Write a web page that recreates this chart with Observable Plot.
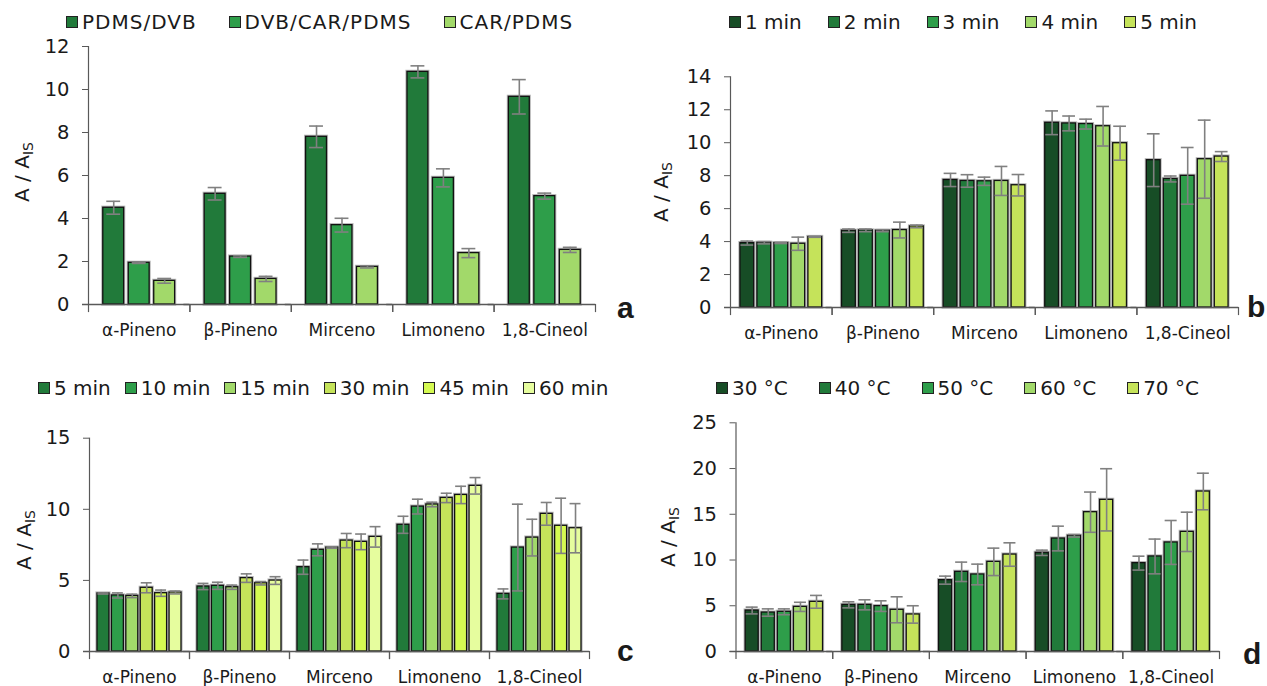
<!DOCTYPE html>
<html>
<head>
<meta charset="utf-8">
<script src="https://cdn.jsdelivr.net/npm/d3@7"></script>
<script src="https://cdn.jsdelivr.net/npm/@observablehq/plot@0.6"></script>
<style>
  body { margin: 0; background: #fff; }
  #root { position: relative; width: 1267px; height: 686px; overflow: hidden; font-family: "DejaVu Sans", sans-serif; color: #1a1a1a; background: #fff; }
  .psvg { position: absolute; }
  .legend { position: absolute; display: flex; align-items: center; font-size: 20px; white-space: nowrap; height: 24px; transform: translateY(-50%); }
  .legend .item { display: flex; align-items: center; }
  .legend .sw { width: 12px; height: 12px; border: 1px solid #222; box-sizing: border-box; margin-right: 4px; }
  .ylabel { position: absolute; font-size: 20px; white-space: nowrap; transform: translate(-50%, -50%) rotate(-90deg); }
  .ylabel sub { font-size: 14px; vertical-align: -4px; }
  .letter { position: absolute; font-family: "Liberation Sans Narrow", "Liberation Sans", Arial, sans-serif; font-weight: bold; font-size: 30px; line-height: 30px; }
</style>
</head>
<body>
<div id="root"></div>
<script>
// ---------- data ----------
const categories = ["α-Pineno", "β-Pineno", "Mirceno", "Limoneno", "1,8-Cineol"];

// Panel a: fibre coating
const seriesA = ["PDMS/DVB", "DVB/CAR/PDMS", "CAR/PDMS"];
const valuesA = [
  [4.50, 5.15, 7.80, 10.82, 9.66],
  [1.94, 2.23, 3.69, 5.89, 5.04],
  [1.10, 1.19, 1.75, 2.39, 2.54]
];
const errorsA = [
  [0.30, 0.29, 0.50, 0.28, 0.80],
  [0.03, 0.04, 0.32, 0.42, 0.14],
  [0.11, 0.12, 0.05, 0.21, 0.12]
];
const ticksA = [0, 2, 4, 6, 8, 10, 12];

// Panel b: desorption time
const seriesB = ["1 min", "2 min", "3 min", "4 min", "5 min"];
const valuesB = [
  [3.91, 4.66, 7.74, 11.21, 8.94],
  [3.93, 4.68, 7.68, 11.17, 7.80],
  [3.91, 4.66, 7.66, 11.13, 7.99],
  [3.87, 4.70, 7.68, 11.00, 9.00],
  [4.28, 4.92, 7.42, 9.97, 9.16]
];
const errorsB = [
  [0.12, 0.10, 0.40, 0.72, 1.60],
  [0.07, 0.08, 0.38, 0.45, 0.18],
  [0.03, 0.06, 0.25, 0.30, 1.72],
  [0.40, 0.48, 0.88, 1.20, 2.37],
  [0.02, 0.08, 0.65, 1.03, 0.30]
];
const ticksB = [0, 2, 4, 6, 8, 10, 12, 14];

// Panel c: extraction time
const seriesC = ["5 min", "10 min", "15 min", "30 min", "45 min", "60 min"];
const valuesC = [
  [4.08, 4.57, 5.93, 8.91, 4.05],
  [3.94, 4.62, 7.15, 10.19, 7.31],
  [3.91, 4.52, 7.31, 10.34, 8.01],
  [4.48, 5.16, 7.80, 10.80, 9.68],
  [4.10, 4.80, 7.71, 11.01, 8.84],
  [4.15, 4.99, 8.06, 11.65, 8.67]
];
const errorsC = [
  [0.04, 0.22, 0.50, 0.60, 0.35],
  [0.18, 0.25, 0.42, 0.52, 3.05],
  [0.12, 0.15, 0.05, 0.16, 1.29],
  [0.35, 0.30, 0.50, 0.33, 0.80],
  [0.22, 0.12, 0.55, 0.61, 1.94],
  [0.10, 0.27, 0.72, 0.58, 1.73]
];
const ticksC = [0, 5, 10, 15];

// Panel d: extraction temperature
const seriesD = ["30 °C", "40 °C", "50 °C", "60 °C", "70 °C"];
const valuesD = [
  [4.48, 5.10, 7.80, 10.79, 9.66],
  [4.26, 5.10, 8.71, 12.35, 10.39],
  [4.34, 4.96, 8.42, 12.65, 11.92],
  [4.88, 4.56, 9.80, 15.23, 13.08],
  [5.43, 4.05, 10.60, 16.58, 17.49]
];
const errorsD = [
  [0.37, 0.33, 0.44, 0.29, 0.76],
  [0.40, 0.55, 1.06, 1.35, 1.90],
  [0.32, 0.58, 1.13, 0.14, 2.40],
  [0.50, 1.42, 1.50, 2.20, 2.15],
  [0.70, 0.95, 1.28, 3.40, 2.00]
];
const ticksD = [0, 5, 10, 15, 20, 25];

// ---------- styles ----------
const colorsA = ["#217a3a", "#2e9e4a", "#a2d96a"];
const colorsB = ["#174d26", "#217a3a", "#2e9e4a", "#a2d96a", "#c5e35a"];
const colorsC = ["#217a3a", "#2e9e4a", "#a2d96a", "#c5e35a", "#d5fa52", "#e6fd9e"];
const colorsD = ["#174d26", "#217a3a", "#2e9e4a", "#a2d96a", "#c5e35a"];

const panels = [
  {series: seriesA, values: valuesA, errors: errorsA, ticks: ticksA, colors: colorsA,
   left: 0, top: 36, width: 640, height: 309, mt: 10, mb: 41, ml: 88, mr: 45, pi: 0.18, po: 0.58, cap: 3.5,
   legend: {left: 66, cy: 22, gap: 32, ls: 1}, ylab: {x: 23, y: 172}, letter: {t: "a", x: 617, base: 318}},
  {series: seriesB, values: valuesB, errors: errorsB, ticks: ticksB, colors: colorsB,
   left: 640, top: 60, width: 627, height: 290, mt: 16.3, mb: 43, ml: 90, mr: 29, pi: 0.19, po: 0.585, cap: 0.5,
   legend: {left: 729, cy: 22, gap: 26, ls: 0}, ylab: {x: 662, y: 192}, letter: {t: "b", x: 1247, base: 317}},
  {series: seriesC, values: valuesC, errors: errorsC, ticks: ticksC, colors: colorsC,
   left: 0, top: 410, width: 640, height: 276, mt: 27.7, mb: 35, ml: 89, mr: 51, pi: 0.17, po: 0.555, cap: 0.5,
   legend: {left: 38, cy: 388, gap: 14, ls: 0}, ylab: {x: 25, y: 540}, letter: {t: "c", x: 617, base: 661}},
  {series: seriesD, values: valuesD, errors: errorsD, ticks: ticksD, colors: colorsD,
   left: 640, top: 410, width: 627, height: 276, mt: 12.3, mb: 35, ml: 95.5, mr: 48, pi: 0.19, po: 0.6, cap: 0.5,
   legend: {left: 716, cy: 388, gap: 31, ls: 0}, ylab: {x: 669, y: 537}, letter: {t: "d", x: 1243, base: 664}}
];

const root = document.getElementById("root");
const axisColor = "#595959";
const errColor = "#808080";

for (const p of panels) {
  const rows = [];
  p.series.forEach((s, i) => categories.forEach((c, j) => {
    rows.push({cat: c, series: s, value: p.values[i][j], err: p.errors[i][j]});
  }));
  const innerH = p.height - p.mt - p.mb;
  const plot = Plot.plot({
    width: p.width,
    height: p.height,
    marginTop: p.mt, marginBottom: p.mb, marginLeft: p.ml, marginRight: p.mr,
    style: {fontFamily: "DejaVu Sans, sans-serif", fontSize: "17px", color: "#1a1a1a", background: "transparent", overflow: "visible"},
    fx: {domain: categories, padding: 0, label: null, axis: null, round: false},
    x: {domain: p.series, paddingInner: p.pi, paddingOuter: p.po, axis: null, round: false},
    y: {domain: [0, p.ticks[p.ticks.length - 1]], axis: null},
    color: {domain: p.series, range: p.colors},
    marks: [
      Plot.axisY({ticks: p.ticks, tickSize: 6, tickPadding: 13, fontSize: 19.5, stroke: axisColor, fill: "#1a1a1a", label: null, tickFormat: d => String(d)}),
      Plot.axisFx({anchor: "bottom", tickSize: 0, tickPadding: 19, label: null, fill: "#1a1a1a"}),
      Plot.frame({anchor: "left", facetAnchor: "left", stroke: axisColor, strokeWidth: 1.2}),
      Plot.frame({anchor: "left", insetTop: innerH, insetBottom: -7, stroke: axisColor, strokeWidth: 1.2}),
      Plot.frame({anchor: "right", insetTop: innerH, insetBottom: -7, stroke: axisColor, strokeWidth: 1.2}),
      Plot.barY(rows, {fx: "cat", x: "series", y: "value", fill: "none", stroke: "#b8b8b8", strokeWidth: 3.2}),
      Plot.barY(rows, {fx: "cat", x: "series", y: "value", fill: "series", stroke: "#111", strokeWidth: 1.3}),
      Plot.ruleX(rows, {fx: "cat", x: "series", y1: d => d.value - d.err, y2: d => d.value + d.err, stroke: errColor, strokeWidth: 1.6}),
      Plot.tickY(rows, {fx: "cat", x: "series", y: d => d.value + d.err, stroke: errColor, strokeWidth: 1.6, insetLeft: p.cap, insetRight: p.cap}),
      Plot.tickY(rows, {fx: "cat", x: "series", y: d => d.value - d.err, stroke: errColor, strokeWidth: 1.6, insetLeft: p.cap, insetRight: p.cap}),
      Plot.ruleY([0], {stroke: axisColor, strokeWidth: 1.4, insetLeft: -6})
    ]
  });
  plot.classList.add("psvg");
  plot.style.left = p.left + "px";
  plot.style.top = p.top + "px";
  root.appendChild(plot);

  // legend
  const lg = document.createElement("div");
  lg.className = "legend";
  lg.style.left = p.legend.left + "px";
  lg.style.top = p.legend.cy + "px";
  lg.style.gap = p.legend.gap + "px";
  lg.style.letterSpacing = p.legend.ls + "px";
  p.series.forEach((s, i) => {
    const it = document.createElement("div");
    it.className = "item";
    const sw = document.createElement("span");
    sw.className = "sw";
    sw.style.background = p.colors[i];
    const tx = document.createElement("span");
    tx.textContent = s;
    it.appendChild(sw); it.appendChild(tx);
    lg.appendChild(it);
  });
  root.appendChild(lg);

  // y label
  const yl = document.createElement("div");
  yl.className = "ylabel";
  yl.innerHTML = "A / A<sub>IS</sub>";
  yl.style.left = p.ylab.x + "px";
  yl.style.top = p.ylab.y + "px";
  root.appendChild(yl);

  // panel letter
  const lt = document.createElement("div");
  lt.className = "letter";
  lt.textContent = p.letter.t;
  lt.style.left = p.letter.x + "px";
  lt.style.top = (p.letter.base - 25.4) + "px";
  root.appendChild(lt);
}
</script>
</body>
</html>
